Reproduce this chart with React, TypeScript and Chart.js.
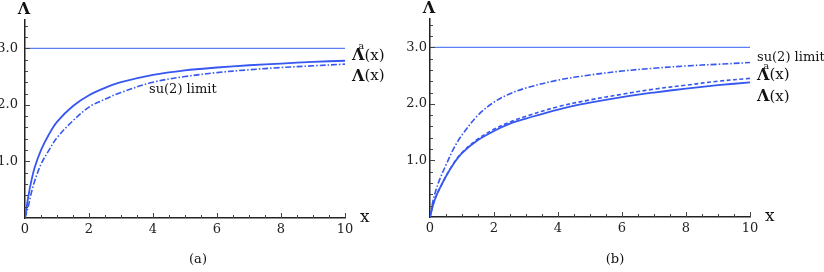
import React, { useEffect, useRef } from 'react';
import { Chart, registerables } from 'chart.js';

Chart.register(...registerables);

// ---------- data ----------
const xGrid = [0, 0.1, 0.2, 0.3, 0.5, 0.75, 1, 1.5, 2, 2.5, 3, 4, 5, 6, 7, 8, 9, 10];

// panel (a)
const aSolid = [0, 0.37, 0.66, 0.89, 1.2, 1.48, 1.7, 1.98, 2.17, 2.3, 2.4, 2.53, 2.61, 2.66, 2.7, 2.73, 2.76, 2.78];
const aDashDot = [0, 0.2, 0.45, 0.65, 0.95, 1.2, 1.42, 1.72, 1.96, 2.1, 2.22, 2.4, 2.5, 2.57, 2.62, 2.66, 2.69, 2.72];

// panel (b)
const bSolid = [0, 0.22, 0.38, 0.5, 0.72, 0.95, 1.13, 1.36, 1.52, 1.65, 1.74, 1.9, 2.02, 2.12, 2.2, 2.27, 2.33, 2.38];
const bDashed = [0, 0.22, 0.38, 0.5, 0.72, 0.96, 1.14, 1.38, 1.55, 1.68, 1.78, 1.95, 2.07, 2.17, 2.26, 2.33, 2.4, 2.45];
const bDashDot = [0, 0.3, 0.5, 0.66, 0.92, 1.22, 1.45, 1.8, 2.03, 2.18, 2.28, 2.42, 2.51, 2.58, 2.63, 2.67, 2.7, 2.73];

const limitX = [0, 10];
const limitY = [3, 3];

const xTickValues = [0, 2, 4, 6, 8, 10];
const yTickValues = [1, 2, 3];

const CURVE = '#3657f0';
const LIMIT = '#5b7ff5';
const AXIS = '#222';
const FONT = '"DejaVu Serif", serif';

const pts = (xs: number[], ys: number[]) => xs.map((x, i) => ({ x, y: ys[i] }));

type Ann = { kind: 'lambda' | 'lambdaA' | 'text'; text?: string; x: number; y: number; side: 'right' | 'value' };

function annPlugin(anns: Ann[], caption: string, captionX: number) {
  return {
    id: 'ann',
    afterDraw(chart: any) {
      const { ctx, chartArea, scales } = chart;
      const xs = scales.x, ys = scales.y;
      const y0 = ys.getPixelForValue(0);
      const x0 = xs.getPixelForValue(0);
      ctx.save();
      // inward ticks
      ctx.strokeStyle = '#444';
      ctx.lineWidth = 1;
      for (let i = 1; i <= 20; i++) {
        const v = i * 0.5;
        const px = Math.round(xs.getPixelForValue(v)) + 0.5;
        const len = i % 4 === 0 ? 5 : 3;
        ctx.beginPath();
        ctx.moveTo(px, y0);
        ctx.lineTo(px, y0 - len);
        ctx.stroke();
      }
      for (let i = 1; i <= 17; i++) {
        const v = i * 0.2;
        const py = Math.round(ys.getPixelForValue(v)) + 0.5;
        const len = i % 5 === 0 ? 5 : 3;
        ctx.beginPath();
        ctx.moveTo(x0, py);
        ctx.lineTo(x0 + len, py);
        ctx.stroke();
      }
      ctx.fillStyle = '#111';
      ctx.textBaseline = 'middle';
      // axis names
      ctx.font = `bold 16px ${FONT}`;
      ctx.textAlign = 'center';
      ctx.fillText('Λ', chartArea.left - 1, chartArea.top - 10);
      ctx.font = `17px ${FONT}`;
      ctx.textAlign = 'left';
      ctx.fillText('x', chartArea.right + 15, y0);
      // caption
      ctx.font = `13px ${FONT}`;
      ctx.textAlign = 'center';
      ctx.fillText(caption, captionX, 260);
      ctx.textAlign = 'left';
      // curve labels
      for (const a of anns) {
        const px = a.side === 'right' ? chartArea.right + 7 : xs.getPixelForValue(a.x);
        const py = ys.getPixelForValue(a.y);
        if (a.kind === 'text') {
          ctx.font = `13px ${FONT}`;
          ctx.fillText(a.text, px, py);
        } else {
          ctx.font = `bold 16px ${FONT}`;
          const w = ctx.measureText('Λ').width;
          ctx.fillText('Λ', px, py);
          if (a.kind === 'lambdaA') {
            ctx.font = `10px ${FONT}`;
            ctx.fillText('a', px + w * 0.5, py - 9);
          }
          ctx.font = `15px ${FONT}`;
          ctx.fillText('(x)', px + w, py);
        }
      }
      ctx.restore();
    },
  };
}

function makeConfig(
  datasets: any[],
  leftW: number,
  bottomH: number,
  top: number,
  right: number,
  labelPad: number,
  plugin: any
) {
  return {
    type: 'line',
    data: { datasets },
    options: {
      responsive: false,
      animation: false,
      events: [],
      layout: { padding: { top, right, left: 0, bottom: 0 } },
      plugins: { legend: { display: false }, tooltip: { enabled: false } },
      elements: { point: { radius: 0 } },
      scales: {
        x: {
          type: 'linear',
          min: 0,
          max: 10,
          afterBuildTicks: (s: any) => { s.ticks = xTickValues.map((v) => ({ value: v })); },
          afterFit: (s: any) => { s.height = bottomH; },
          ticks: {
            color: AXIS,
            font: { family: FONT, size: 13 },
            padding: 4,
            maxRotation: 0,
            autoSkip: false,
            callback: (v: any) => String(v),
          },
          grid: { display: false, drawTicks: false },
          border: { display: true, color: AXIS, width: 1.5 },
        },
        y: {
          type: 'linear',
          min: 0,
          max: 3.5,
          afterBuildTicks: (s: any) => { s.ticks = yTickValues.map((v) => ({ value: v })); },
          afterFit: (s: any) => { s.width = leftW; },
          ticks: {
            color: AXIS,
            font: { family: FONT, size: 13 },
            padding: labelPad,
            autoSkip: false,
            callback: (v: any) => Number(v).toFixed(1),
          },
          grid: { display: false, drawTicks: false },
          border: { display: true, color: AXIS, width: 1.5 },
        },
      },
    },
    plugins: [plugin],
  };
}

const lineDs = (data: any[], color: string, width: number, dash: number[]) => ({
  data,
  borderColor: color,
  borderWidth: width,
  borderDash: dash,
  pointRadius: 0,
  fill: false,
  tension: 0.35,
});

export default function App() {
  const refA = useRef<HTMLCanvasElement>(null);
  const refB = useRef<HTMLCanvasElement>(null);

  useEffect(() => {
    const dsA = [
      lineDs(pts(limitX, limitY), LIMIT, 1.2, []),
      lineDs(pts(xGrid, aSolid), CURVE, 1.8, []),
      lineDs(pts(xGrid, aDashDot), CURVE, 1.6, [6, 2, 1.5, 2]),
    ];
    const annsA: Ann[] = [
      { kind: 'lambdaA', x: 0, y: 2.87, side: 'right' },
      { kind: 'lambda', x: 0, y: 2.5, side: 'right' },
      { kind: 'text', text: 'su(2) limit', x: 3.875, y: 2.27, side: 'value' },
    ];
    const dsB = [
      lineDs(pts(limitX, limitY), LIMIT, 1.2, []),
      lineDs(pts(xGrid, bSolid), CURVE, 1.8, []),
      lineDs(pts(xGrid, bDashed), CURVE, 1.6, [4, 2.5]),
      lineDs(pts(xGrid, bDashDot), CURVE, 1.6, [6, 2, 1.5, 2]),
    ];
    const annsB: Ann[] = [
      { kind: 'text', text: 'su(2) limit', x: 0, y: 2.82, side: 'right' },
      { kind: 'lambdaA', x: 0, y: 2.5, side: 'right' },
      { kind: 'lambda', x: 0, y: 2.12, side: 'right' },
    ];
    const cA = new Chart(refA.current as any, makeConfig(dsA, 25, 54, 20, 67, 7, annPlugin(annsA, '(a)', 198)) as any);
    const cB = new Chart(refB.current as any, makeConfig(dsB, 30, 55, 19, 74, 3, annPlugin(annsB, '(b)', 215)) as any);
    return () => {
      cA.destroy();
      cB.destroy();
    };
  }, []);

  return (
    <div style={{ position: 'absolute', left: 0, top: 0, width: 824, height: 272, background: '#fff' }}>
      <canvas ref={refA} width={412} height={272} style={{ position: 'absolute', left: 0, top: 0 }} />
      <canvas ref={refB} width={424} height={272} style={{ position: 'absolute', left: 400, top: 0 }} />
    </div>
  );
}
